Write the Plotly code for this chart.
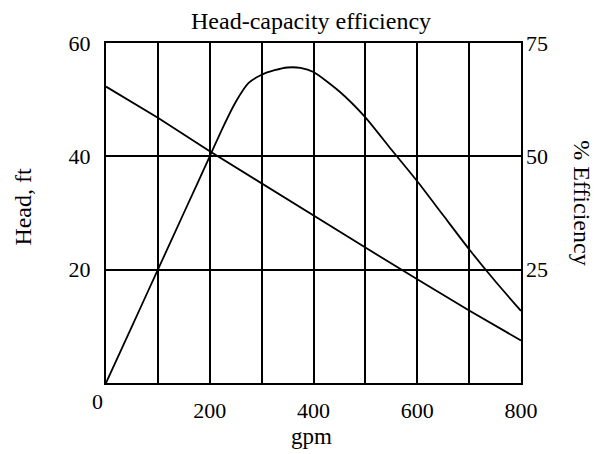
import plotly.graph_objects as go

# Pump head curve (left axis, ft) against capacity (gpm)
gpm_head = [0, 100, 200, 300, 400, 500, 600, 700, 800]
head_ft = [52.3, 46.8, 40.9, 35.2, 29.5, 23.9, 18.3, 12.8, 7.5]

# Pump efficiency curve (right axis, %) against capacity (gpm)
gpm_eff = [0, 50, 100, 150, 200, 225, 250, 275, 300, 325, 350, 375, 400,
           450, 500, 550, 600, 650, 700, 750, 800]
eff_pct = [0, 12.5, 25, 37.5, 50, 56.3, 62.0, 66.2, 68.0, 69.0, 69.6, 69.5, 68.6,
           64.3, 58.6, 51.5, 44.5, 37.0, 29.5, 22.5, 15.9]

# Axis tick labels
x_ticks = [200, 400, 600, 800]
head_ticks = [20, 40, 60]
eff_ticks = [25, 50, 75]

FONT = "Liberation Serif"
INK = "black"

fig = go.Figure()
fig.add_trace(go.Scatter(
    x=gpm_head, y=head_ft, mode="lines", yaxis="y",
    line=dict(color=INK, width=1.8), showlegend=False, hoverinfo="skip"))
fig.add_trace(go.Scatter(
    x=gpm_eff, y=eff_pct, mode="lines", yaxis="y2",
    line=dict(color=INK, width=1.8, shape="spline", smoothing=0.6),
    showlegend=False, hoverinfo="skip"))

axis_common = dict(
    showline=True, linecolor=INK, linewidth=2, mirror=True,
    zeroline=False, ticks="", tickfont=dict(family=FONT, size=22, color=INK),
)


def label(text, x, y, size, angle=0):
    return dict(text=text, xref="paper", yref="paper", x=x, y=y,
                xanchor="center", yanchor="middle", textangle=angle,
                showarrow=False, font=dict(family=FONT, size=size, color=INK))


fig.update_layout(
    width=601, height=454,
    margin=dict(l=106, r=80, t=43, b=71),
    paper_bgcolor="white", plot_bgcolor="white",
    font=dict(family=FONT, color=INK),
    xaxis=dict(
        range=[0, 800], tickvals=x_ticks, ticklabelstandoff=7,
        showgrid=True, gridcolor=INK, gridwidth=2,
        minor=dict(dtick=100, tick0=0, showgrid=True, gridcolor=INK, gridwidth=2),
        **axis_common),
    yaxis=dict(
        range=[0, 60], tickvals=head_ticks, ticklabelstandoff=9,
        showgrid=True, gridcolor=INK, gridwidth=2, **axis_common),
    yaxis2=dict(
        range=[0, 75], tickvals=eff_ticks, overlaying="y", side="right",
        showgrid=False, showline=False, zeroline=False, ticks="",
        ticklabelstandoff=4, tickfont=dict(family=FONT, size=22, color=INK)),
    annotations=[
        label("Head-capacity efficiency", 0.495, 1.066, 24),
        label("Head, ft", -0.199, 0.52, 24, -90),
        label("% Efficiency", 1.147, 0.529, 24, 90),
        label("gpm", 0.496, -0.158, 23),
        label("0", -0.0205, -0.0535, 22),
    ],
)

fig.write_html("out.html")
